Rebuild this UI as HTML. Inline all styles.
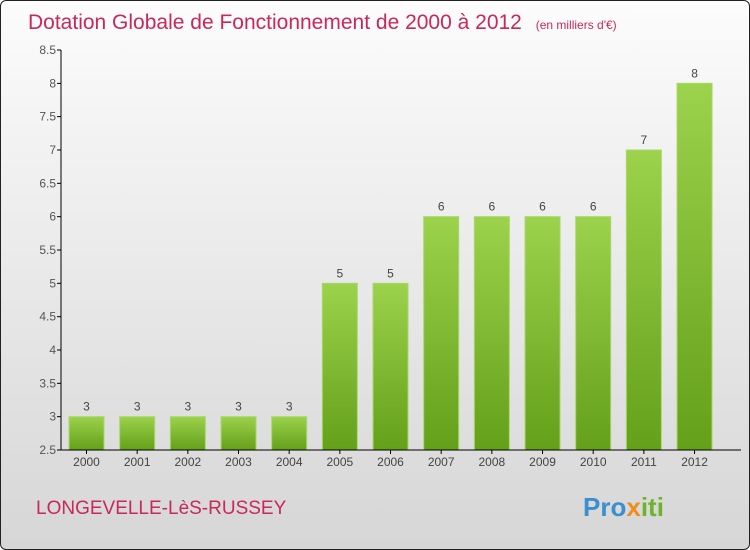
<!DOCTYPE html>
<html><head><meta charset="utf-8"><style>
body{margin:0;}
#wrap{width:748px;height:548px;border:1px solid #222;border-radius:6px;background:linear-gradient(#fcfcfc,#d6d6d6);position:relative;overflow:hidden;font-family:"Liberation Sans",sans-serif;}
</style></head><body>
<div id="wrap">
<svg width="748" height="548">
<defs><linearGradient id="bg" x1="0" y1="0" x2="0" y2="1"><stop offset="0" stop-color="#9cd24c"/><stop offset="1" stop-color="#64a01a"/></linearGradient></defs>
<text x="27" y="28" font-size="21" fill="#c8285a">Dotation Globale de Fonctionnement de 2000 à 2012 <tspan font-size="12" dx="8">(en milliers d'€)</tspan></text>
<g id="plot"></g>
<text x="35" y="513" font-size="19" fill="#c8285a">LONGEVELLE-LèS-RUSSEY</text>
<text x="582" y="515" font-size="26" font-weight="bold" fill="#3a8fd0">Pro<tspan fill="#f08c1e">x</tspan><tspan fill="#6cb42c">iti</tspan></text>
</svg></div>
<script>
const categories=["2000","2001","2002","2003","2004","2005","2006","2007","2008","2009","2010","2011","2012"];
const values=[3,3,3,3,3,5,5,6,6,6,6,7,8];
const ticks=[2.5,3,3.5,4,4.5,5,5.5,6,6.5,7,7.5,8,8.5];
{
const NS="http://www.w3.org/2000/svg";
const g=document.getElementById("plot");
const x0=60,yMin=2.5,yMax=8.5,plotTop=49,bot=449,step=50.67,bw=35;
const y=v=>bot-(v-yMin)/(yMax-yMin)*(bot-plotTop);
const xc=i=>x0+25.5+i*step;
function mk(t,a){const e=document.createElementNS(NS,t);for(const k in a)e.setAttribute(k,a[k]);g.appendChild(e);return e;}
let e;
ticks.forEach(t=>{
e=mk("line",{x1:x0-4,x2:x0,y1:y(t),y2:y(t),stroke:"#000"});


e=mk("text",{x:x0-5,y:y(t)+4,"font-size":12,fill:"#555","text-anchor":"end"});e.textContent=String(t);


});
categories.forEach((c,i)=>{
const v=values[i];
e=mk("rect",{x:xc(i)-bw/2,y:y(v),width:bw,height:bot-y(v),fill:"url(#bg)",stroke:"#a8d86a","stroke-width":1});


e=mk("text",{x:xc(i),y:y(v)-6,"font-size":12,fill:"#444","text-anchor":"middle"});e.textContent=String(v);


e=mk("line",{x1:xc(i),x2:xc(i),y1:bot,y2:bot+4,stroke:"#000"});


e=mk("text",{x:xc(i),y:bot+16,"font-size":12,fill:"#444","text-anchor":"middle"});e.textContent=c;


});
e=mk("line",{x1:x0,x2:x0,y1:plotTop,y2:bot,stroke:"#000"});


e=mk("line",{x1:x0,x2:740,y1:bot,y2:bot,stroke:"#000"});


}
</script>
</body></html>
